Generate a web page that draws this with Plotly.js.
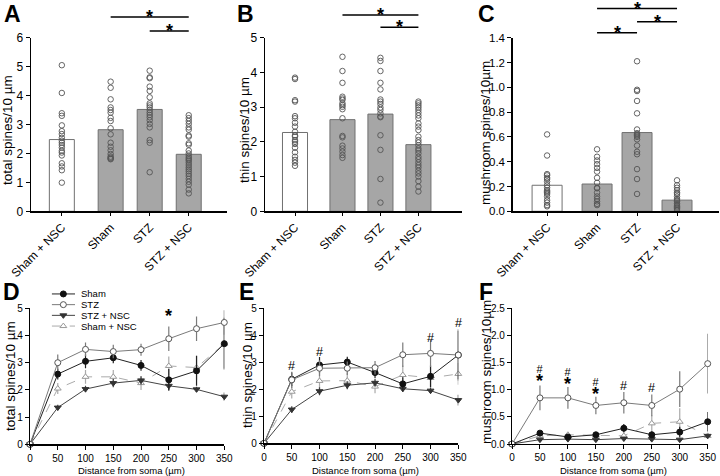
<!DOCTYPE html>
<html><head><meta charset="utf-8">
<script src="https://cdn.plot.ly/plotly-3.0.1.min.js"></script>
<style>html,body{margin:0;padding:0;background:#fff;}#chart{width:720px;height:476px;}</style>
</head><body><div id="chart"></div>
<script>
// ---------- DATA ----------
const groups = ['Sham + NSC', 'Sham', 'STZ', 'STZ + NSC'];
const groupPos = [0, 1.25, 2.25, 3.25];

// Panel A: total spines/10 µm
const totalMeans = [2.48, 2.82, 3.52, 1.97];
const totalDotsShamNSC = [5.05, 4.09, 3.39, 3.30, 2.97, 2.77, 2.67, 2.54, 2.44, 2.37, 2.29, 2.20, 2.09, 2.03, 1.93, 1.66, 1.55, 1.42, 0.99];
const totalDotsSham = [4.48, 4.27, 3.87, 3.59, 3.50, 3.41, 3.23, 3.12, 2.87, 2.66, 2.37, 2.23, 2.11, 1.98, 1.89, 1.85, 1.82, 1.80];
const totalDotsSTZ = [4.86, 4.63, 4.60, 4.31, 4.16, 3.94, 3.73, 3.66, 3.59, 3.50, 3.41, 3.33, 3.25, 3.15, 3.02, 2.90, 2.46, 2.37, 1.35];
const totalDotsSTZNSC = [3.32, 3.22, 3.12, 3.02, 2.90, 2.82, 2.62, 2.58, 2.35, 2.30, 2.10, 2.00, 1.92, 1.85, 1.80, 1.75, 1.68, 1.60, 1.52, 1.45, 1.38, 1.30, 1.22, 1.12, 1.02, 0.92, 0.75, 0.62];

// Panel B: thin spines/10 µm
const thinMeans = [2.27, 2.64, 2.80, 1.92];
const thinDotsShamNSC = [3.85, 3.81, 3.20, 3.16, 2.74, 2.68, 2.55, 2.44, 2.29, 2.19, 2.15, 2.05, 2.00, 1.94, 1.83, 1.70, 1.57, 1.48, 1.40, 1.31];
const thinDotsSham = [4.45, 4.04, 3.70, 3.30, 3.25, 3.21, 3.11, 3.06, 3.01, 2.94, 2.68, 2.17, 2.13, 1.89, 1.81, 1.72, 1.62, 1.54];
const thinDotsSTZ = [4.42, 4.33, 4.04, 3.70, 3.51, 3.22, 3.16, 3.09, 2.99, 2.92, 2.82, 2.73, 2.71, 2.19, 1.77, 0.93, 0.25];
const thinDotsSTZNSC = [3.16, 3.11, 3.05, 2.99, 2.92, 2.84, 2.76, 2.68, 2.53, 2.44, 2.34, 2.15, 2.05, 1.98, 1.90, 1.81, 1.75, 1.67, 1.57, 1.50, 1.41, 1.33, 1.26, 1.17, 1.09, 1.00, 0.87, 0.71, 0.57];

// Panel C: mushroom spines/10 µm
const mushMeans = [0.21, 0.22, 0.635, 0.09];
const mushDotsShamNSC = [0.62, 0.45, 0.30, 0.29, 0.27, 0.26, 0.24, 0.21, 0.19, 0.17, 0.16, 0.15, 0.14, 0.12, 0.09, 0.07, 0.05, 0.04];
const mushDotsSham = [0.50, 0.44, 0.41, 0.38, 0.35, 0.32, 0.27, 0.23, 0.19, 0.185, 0.15, 0.12, 0.10, 0.08, 0.06, 0.05];
const mushDotsSTZ = [1.21, 0.98, 0.97, 0.89, 0.79, 0.66, 0.63, 0.62, 0.61, 0.60, 0.58, 0.53, 0.48, 0.46, 0.34, 0.26, 0.14];
const mushDotsSTZNSC = [0.25, 0.21, 0.19, 0.17, 0.15, 0.14, 0.12, 0.10, 0.09, 0.08, 0.065, 0.05, 0.04, 0.03, 0.02, 0.01];

// Significance comparisons (group index pairs)
const sigA = [[1, 3], [2, 3]];
const sigB = [[1, 3], [2, 3]];
const sigC = [[1, 3], [2, 3], [1, 2]];

// Panels D-F: spine density vs distance from soma
const distance = [0, 50, 100, 150, 200, 250, 300, 350];
const seriesNames = ['Sham', 'STZ', 'STZ + NSC', 'Sham + NSC'];

const totalSham = [0, 2.58, 3.05, 3.18, 2.90, 2.37, 2.70, 3.70];
const totalShamErr = [0, 0.20, 0.25, 0.20, 0.20, 0.40, 0.55, 0.95];
const totalSTZ = [0, 3.00, 3.49, 3.41, 3.48, 3.88, 4.25, 4.48];
const totalSTZErr = [0, 0.30, 0.25, 0.25, 0.22, 0.45, 0.45, 0.45];
const totalSTZNSC = [0, 1.35, 2.03, 2.25, 2.35, 2.15, 2.02, 1.75];
const totalSTZNSCErr = [0, 0.10, 0.12, 0.15, 0.15, 0.15, 0.10, 0.15];
const totalShamNSC = [0, 2.05, 2.48, 2.48, 2.25, 2.88, 2.82, 3.70];
const totalShamNSCErr = [0, 0.20, 0.25, 0.25, 0.25, 0.35, 0.45, 0.90];

const thinSham = [0, 2.37, 2.90, 3.01, 2.62, 2.20, 2.48, 3.27];
const thinShamErr = [0, 0.25, 0.30, 0.20, 0.20, 0.25, 0.40, 0.90];
const thinSTZ = [0, 2.35, 2.78, 2.78, 2.80, 3.28, 3.33, 3.27];
const thinSTZErr = [0, 0.30, 0.30, 0.25, 0.25, 0.45, 0.50, 0.95];
const thinSTZNSC = [0, 1.25, 1.93, 2.15, 2.24, 2.02, 1.95, 1.60];
const thinSTZNSCErr = [0, 0.12, 0.15, 0.15, 0.15, 0.12, 0.10, 0.20];
const thinShamNSC = [0, 1.91, 2.31, 2.32, 2.10, 2.53, 2.42, 2.57];
const thinShamNSCErr = [0, 0.25, 0.30, 0.30, 0.25, 0.35, 0.40, 0.40];

const mushSham = [0, 0.20, 0.13, 0.17, 0.29, 0.17, 0.22, 0.41];
const mushShamErr = [0, 0.03, 0.03, 0.03, 0.08, 0.06, 0.10, 0.18];
const mushSTZ = [0, 0.85, 0.85, 0.71, 0.76, 0.71, 1.01, 1.48];
const mushSTZErr = [0, 0.23, 0.20, 0.16, 0.20, 0.20, 0.33, 0.55];
const mushSTZNSC = [0, 0.08, 0.09, 0.08, 0.10, 0.09, 0.08, 0.15];
const mushSTZNSCErr = [0, 0.02, 0.02, 0.02, 0.03, 0.02, 0.02, 0.03];
const mushShamNSC = [0, 0.15, 0.17, 0.16, 0.15, 0.38, 0.41, 0.15];
const mushShamNSCErr = [0, 0.03, 0.03, 0.03, 0.05, 0.15, 0.25, 0.05];

// Significance markers on line panels: [distance, level of '#' (or '*'), symbols]
const marksD = [[250, 4.87, '*']];
const marksE = [[50, 2.86, '#'], [100, 3.40, '#'], [300, 3.89, '#'], [350, 4.44, '#']];
const marksF = [[50, 1.36, '#*'], [100, 1.31, '#*'], [150, 1.13, '#*'], [200, 1.07, '#'], [250, 1.04, '#']];

// ---------- LAYOUT ----------
const W = 720, H = 476;
const FONT = 'Arial, "Liberation Sans", sans-serif';
const px = v => v / W;
const py = v => 1 - v / H;

const traces = [];
const annotations = [];
const shapes = [];
const layout = {
  width: W, height: H, margin: {l: 0, r: 0, t: 0, b: 0},
  paper_bgcolor: '#fff', plot_bgcolor: 'rgba(0,0,0,0)',
  showlegend: false, font: {family: FONT, color: '#000'},
  bargap: 0
};

function axisBase(extra) {
  return Object.assign({
    showline: true, linecolor: '#000', linewidth: 1.4,
    ticks: 'outside', ticklen: 4, tickwidth: 1, tickcolor: '#000',
    showgrid: false, zeroline: false, fixedrange: true,
    tickfont: {family: FONT, size: 12, color: '#000'}
  }, extra);
}

const barPanels = [
  {n: 1, letter: 'A', means: totalMeans, dots: [totalDotsShamNSC, totalDotsSham, totalDotsSTZ, totalDotsSTZNSC],
   xPx: [31, 227], xr: [-0.79, 4.23], yr: [0, 6], dtick: 1, fmt: '', bw: 0.64, title: 'total spines/10 µm', yfs: 12,
   sig: sigA, sigY: [17, 31], letterPos: [12, 14], titlePos: [8, 130]},
  {n: 2, letter: 'B', means: thinMeans, dots: [thinDotsShamNSC, thinDotsSham, thinDotsSTZ, thinDotsSTZNSC],
   xPx: [265, 461.7], xr: [-0.79, 4.39], yr: [0, 5], dtick: 1, fmt: '', bw: 0.66, title: 'thin spines/10 µm', yfs: 12,
   sig: sigB, sigY: [15, 27.3], letterPos: [245, 14], titlePos: [245, 130]},
  {n: 3, letter: 'C', means: mushMeans, dots: [mushDotsShamNSC, mushDotsSham, mushDotsSTZ, mushDotsSTZNSC],
   xPx: [512.7, 719], xr: [-0.86, 4.3], yr: [0, 1.4], dtick: 0.2, fmt: '.1f', bw: 0.75, title: 'mushroom spines/10µm', yfs: 11.5,
   sig: sigC, sigY: [8.5, 21.7, 32.7], letterPos: [486, 14], titlePos: [485, 133]}
];
const topYPx = [211.3, 37.7];

barPanels.forEach(p => {
  const xa = 'x' + (p.n === 1 ? '' : p.n), ya = 'y' + (p.n === 1 ? '' : p.n);
  const xk = 'xaxis' + (p.n === 1 ? '' : p.n), yk = 'yaxis' + (p.n === 1 ? '' : p.n);
  const xdom = [px(p.xPx[0]), px(p.xPx[1])];
  layout[xk] = axisBase({domain: xdom, range: p.xr, anchor: ya, tickvals: groupPos, ticktext: groups, tickangle: -45, ticklen: 3});
  layout[yk] = axisBase({domain: [py(topYPx[0]), py(topYPx[1])], range: p.yr, anchor: xa, dtick: p.dtick, tick0: 0, tickformat: p.fmt,
    tickfont: {family: FONT, size: p.yfs, color: '#000'}});
  traces.push({type: 'bar', x: groupPos, y: p.means, width: p.bw, xaxis: xa, yaxis: ya,
    marker: {color: ['#ffffff', '#a6a6a6', '#a6a6a6', '#a6a6a6'], line: {color: '#707070', width: 1}}, hoverinfo: 'none'});
  p.dots.forEach((d, i) => {
    traces.push({type: 'scatter', mode: 'markers', x: d.map(() => groupPos[i]), y: d, xaxis: xa, yaxis: ya,
      marker: {symbol: 'circle-open', size: 5.5, color: '#555', line: {width: 0.9}}, hoverinfo: 'none', cliponaxis: false});
  });
  const toPaperX = v => xdom[0] + (v - p.xr[0]) / (p.xr[1] - p.xr[0]) * (xdom[1] - xdom[0]);
  p.sig.forEach((pair, k) => {
    const x0 = toPaperX(groupPos[pair[0]]), x1 = toPaperX(groupPos[pair[1]]);
    const yl = py(p.sigY[k]);
    shapes.push({type: 'line', xref: 'paper', yref: 'paper', x0: x0, x1: x1, y0: yl, y1: yl, line: {color: '#000', width: 1.5}});
    annotations.push({xref: 'paper', yref: 'paper', x: (x0 + x1) / 2, y: yl, text: '<b>*</b>', showarrow: false,
      xanchor: 'center', yanchor: 'middle', font: {size: 18, family: FONT, color: '#000'}});
  });
  annotations.push({xref: 'paper', yref: 'paper', x: px(p.letterPos[0]), y: py(p.letterPos[1]), text: '<b>' + p.letter + '</b>',
    showarrow: false, xanchor: 'center', yanchor: 'middle', font: {size: 23, family: FONT, color: '#000'}});
  annotations.push({xref: 'paper', yref: 'paper', x: px(p.titlePos[0]), y: py(p.titlePos[1]), text: p.title, textangle: -90,
    showarrow: false, xanchor: 'center', yanchor: 'middle', font: {size: 13.5, family: FONT, color: '#000'}});
});

const seriesStyle = [
  {line: '#222', dash: 'solid', symbol: 'circle', fill: '#111', mline: '#111'},
  {line: '#7a7a7a', dash: 'solid', symbol: 'circle', fill: '#fff', mline: '#555'},
  {line: '#444', dash: 'solid', symbol: 'triangle-down', fill: '#333', mline: '#333'},
  {line: '#aaa', dash: 'dash', symbol: 'triangle-up', fill: '#fff', mline: '#999'}
];

const linePanels = [
  {n: 4, letter: 'D', series: [totalSham, totalSTZ, totalSTZNSC, totalShamNSC], errs: [totalShamErr, totalSTZErr, totalSTZNSCErr, totalShamNSCErr],
   xPx: [30, 224.3], yPx: [444.3, 308.3], yr: [0, 5], dtick: 1, fmt: '', title: 'total spines/10 µm', marks: marksD,
   letterPos: [11, 292], titlePos: [10, 376]},
  {n: 5, letter: 'E', series: [thinSham, thinSTZ, thinSTZNSC, thinShamNSC], errs: [thinShamErr, thinSTZErr, thinSTZNSCErr, thinShamNSCErr],
   xPx: [264, 458.3], yPx: [443.3, 308.3], yr: [0, 5], dtick: 1, fmt: '', title: 'thin spines/10 µm', marks: marksE,
   letterPos: [246, 292], titlePos: [247, 375]},
  {n: 6, letter: 'F', series: [mushSham, mushSTZ, mushSTZNSC, mushShamNSC], errs: [mushShamErr, mushSTZErr, mushSTZNSCErr, mushShamNSCErr],
   xPx: [512, 707.7], yPx: [444, 308.3], yr: [0, 2.5], dtick: 0.5, fmt: '.1f', title: 'mushroom spines/10µm', marks: marksF,
   letterPos: [486, 292], titlePos: [486, 372]}
];

linePanels.forEach(p => {
  const xa = 'x' + p.n, ya = 'y' + p.n;
  layout['xaxis' + p.n] = axisBase({domain: [px(p.xPx[0]), px(p.xPx[1])], range: [0, 350], dtick: 50, tick0: 0, anchor: ya,
    tickfont: {family: FONT, size: 10, color: '#000'}, linewidth: 1.2});
  layout['yaxis' + p.n] = axisBase({domain: [py(p.yPx[0]), py(p.yPx[1])], range: p.yr, dtick: p.dtick, tick0: 0, tickformat: p.fmt, anchor: xa,
    tickfont: {family: FONT, size: 10, color: '#000'}, linewidth: 1.2});
  const order = [3, 2, 0, 1];
  order.forEach(i => {
    const s = seriesStyle[i];
    traces.push({type: 'scatter', mode: 'lines+markers', x: distance, y: p.series[i], xaxis: xa, yaxis: ya, name: seriesNames[i],
      line: {color: s.line, width: 1, dash: s.dash},
      marker: {symbol: s.symbol, size: 6, color: s.fill, line: {color: s.mline, width: 1}},
      error_y: {type: 'data', array: p.errs[i], visible: true, width: 0, thickness: 1.2, color: s.line},
      cliponaxis: false, hoverinfo: 'none'});
  });
  p.marks.forEach(m => {
    const sym = m[2];
    let text, yanchor = 'middle', yshift = 0, size = 12.5;
    if (sym === '*') { text = '<b>*</b>'; size = 18; yshift = -4; }
    else if (sym === '#') { text = '#'; }
    else { text = '#<br><span style="font-size:18px"><b>*</b></span>'; size = 11; yanchor = 'top'; yshift = 8; }
    annotations.push({xref: xa, yref: ya, x: m[0], y: m[1], text: text, showarrow: false,
      xanchor: 'center', yanchor: yanchor, yshift: yshift, borderpad: 0,
      font: {size: size, family: FONT, color: '#000'}});
  });
  annotations.push({xref: 'paper', yref: 'paper', x: px(p.letterPos[0]), y: py(p.letterPos[1]), text: '<b>' + p.letter + '</b>',
    showarrow: false, xanchor: 'center', yanchor: 'middle', font: {size: 23, family: FONT, color: '#000'}});
  annotations.push({xref: 'paper', yref: 'paper', x: px(p.titlePos[0]), y: py(p.titlePos[1]), text: p.title, textangle: -90,
    showarrow: false, xanchor: 'center', yanchor: 'middle', font: {size: 13.5, family: FONT, color: '#000'}});
  annotations.push({xref: 'paper', yref: 'paper', x: px((p.xPx[0] + p.xPx[1]) / 2 + 4), y: py(470), text: 'Distance from soma (µm)',
    showarrow: false, xanchor: 'center', yanchor: 'middle', font: {size: 9.5, family: FONT, color: '#000'}});
});

// Manual compact legend for panel D
layout.xaxis7 = {domain: [px(51.7), px(75)], range: [0, 1], visible: false, fixedrange: true, anchor: 'y7'};
layout.yaxis7 = {domain: [py(331.4), py(288.6)], range: [3.5, -0.5], visible: false, fixedrange: true, anchor: 'x7'};
seriesNames.forEach((nm, i) => {
  const s = seriesStyle[i];
  traces.push({type: 'scatter', mode: 'lines+markers', x: [0, 0.5, 1], y: [i, i, i], xaxis: 'x7', yaxis: 'y7',
    line: {color: s.line, width: 1, dash: s.dash},
    marker: {symbol: s.symbol, size: 6, color: s.fill, line: {color: s.mline, width: 1}, opacity: [0, 1, 0]},
    cliponaxis: false, hoverinfo: 'none'});
  annotations.push({xref: 'x7', yref: 'y7', x: 1, y: i, text: nm, showarrow: false, xanchor: 'left', yanchor: 'middle', xshift: 4,
    font: {size: 9.5, family: FONT, color: '#000'}});
});

layout.annotations = annotations;
layout.shapes = shapes;
Plotly.newPlot('chart', traces, layout, {staticPlot: true, displayModeBar: false});
</script></body></html>
